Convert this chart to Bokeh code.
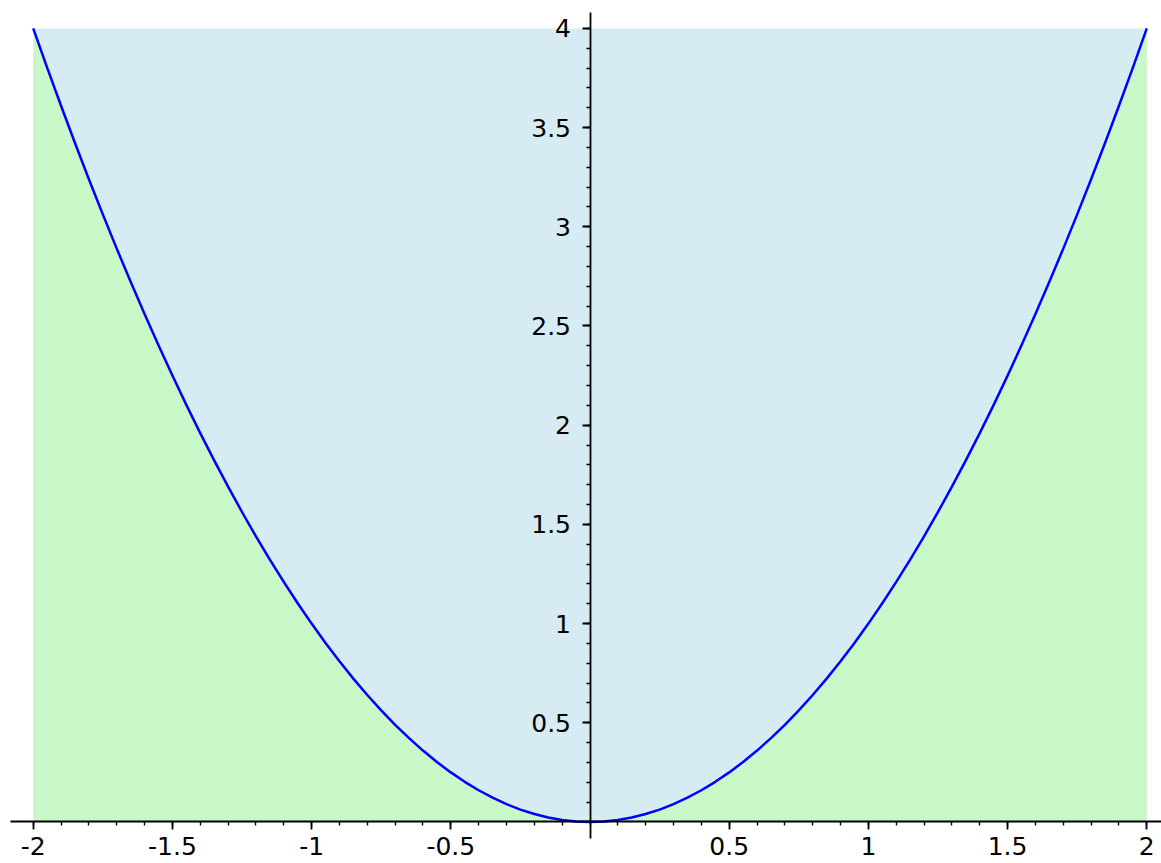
from bokeh.plotting import figure
from bokeh.models import Range1d, FixedTicker, ColumnDataSource
from bokeh.embed import file_html
from bokeh.resources import INLINE

# sampled points of the curve, step 0.05
xs = [-2.0, -1.95, -1.9, -1.85, -1.8, -1.75, -1.7, -1.65, -1.6, -1.55,
      -1.5, -1.45, -1.4, -1.35, -1.3, -1.25, -1.2, -1.15, -1.1, -1.05,
      -1.0, -0.95, -0.9, -0.85, -0.8, -0.75, -0.7, -0.65, -0.6, -0.55,
      -0.5, -0.45, -0.4, -0.35, -0.3, -0.25, -0.2, -0.15, -0.1, -0.05,
      0.0,
      0.05, 0.1, 0.15, 0.2, 0.25, 0.3, 0.35, 0.4, 0.45, 0.5,
      0.55, 0.6, 0.65, 0.7, 0.75, 0.8, 0.85, 0.9, 0.95, 1.0,
      1.05, 1.1, 1.15, 1.2, 1.25, 1.3, 1.35, 1.4, 1.45, 1.5,
      1.55, 1.6, 1.65, 1.7, 1.75, 1.8, 1.85, 1.9, 1.95, 2.0]
ys = [4.0, 3.8025, 3.61, 3.4225, 3.24, 3.0625, 2.89, 2.7225, 2.56, 2.4025,
      2.25, 2.1025, 1.96, 1.8225, 1.69, 1.5625, 1.44, 1.3225, 1.21, 1.1025,
      1.0, 0.9025, 0.81, 0.7225, 0.64, 0.5625, 0.49, 0.4225, 0.36, 0.3025,
      0.25, 0.2025, 0.16, 0.1225, 0.09, 0.0625, 0.04, 0.0225, 0.01, 0.0025,
      0.0,
      0.0025, 0.01, 0.0225, 0.04, 0.0625, 0.09, 0.1225, 0.16, 0.2025, 0.25,
      0.3025, 0.36, 0.4225, 0.49, 0.5625, 0.64, 0.7225, 0.81, 0.9025, 1.0,
      1.1025, 1.21, 1.3225, 1.44, 1.5625, 1.69, 1.8225, 1.96, 2.1025, 2.25,
      2.4025, 2.56, 2.7225, 2.89, 3.0625, 3.24, 3.4225, 3.61, 3.8025, 4.0]
fill_top = 4.0
fill_bottom = 0.0

x_major = [-2, -1.5, -1, -0.5, 0.5, 1, 1.5, 2]
x_labels = ["-2", "-1.5", "-1", "-0.5", "0.5", "1", "1.5", "2"]
y_major = [0.5, 1, 1.5, 2, 2.5, 3, 3.5, 4]
y_labels = ["0.5", "1", "1.5", "2", "2.5", "3", "3.5", "4"]
x_minor = [round(-2.0 + 0.1 * i, 1) for i in range(41)]
y_minor = [round(0.1 * i, 1) for i in range(41)]

src = ColumnDataSource(dict(
    x=xs, y=ys,
    top=[fill_top] * len(xs),
    bottom=[fill_bottom] * len(xs),
))

p = figure(width=1161, height=863, output_backend="svg", toolbar_location=None,
           x_range=Range1d(-2.1175, 2.0528), y_range=Range1d(-0.2092, 4.1406),
           min_border=0, outline_line_color=None)
p.grid.visible = False
p.background_fill_color = "white"
p.border_fill_color = "white"

p.varea(x="x", y1="y", y2="top", source=src, fill_color="#d6ebf2")
p.varea(x="x", y1="bottom", y2="y", source=src, fill_color="#c8f7c8")
p.line(x="x", y="y", source=src, line_color="#0000ff", line_width=2.5,
       line_join="round")

xa = p.xaxis[0]
xa.fixed_location = 0
xa.bounds = (-2.081, 2.06)
xa.ticker = FixedTicker(ticks=x_major, minor_ticks=x_minor)
xa.major_label_overrides = {v: s for v, s in zip(x_major, x_labels)}
xa.major_label_standoff = 7

ya = p.yaxis[0]
ya.fixed_location = 0
ya.bounds = (-0.083, 4.08)
ya.ticker = FixedTicker(ticks=y_major, minor_ticks=y_minor)
ya.major_label_overrides = {v: s for v, s in zip(y_major, y_labels)}
ya.major_label_standoff = 11

for ax in (xa, ya):
    ax.axis_line_color = "black"
    ax.axis_line_width = 1.8
    ax.major_tick_line_color = "black"
    ax.major_tick_line_width = 1.8
    ax.minor_tick_line_color = "black"
    ax.minor_tick_line_width = 1.4
    ax.major_tick_in = 0
    ax.major_tick_out = 8
    ax.minor_tick_in = 0
    ax.minor_tick_out = 4
    ax.major_label_text_font = "DejaVu Sans"
    ax.major_label_text_font_size = "25px"
    ax.major_label_text_color = "black"

open("out.html", "w").write(file_html(p, INLINE))
